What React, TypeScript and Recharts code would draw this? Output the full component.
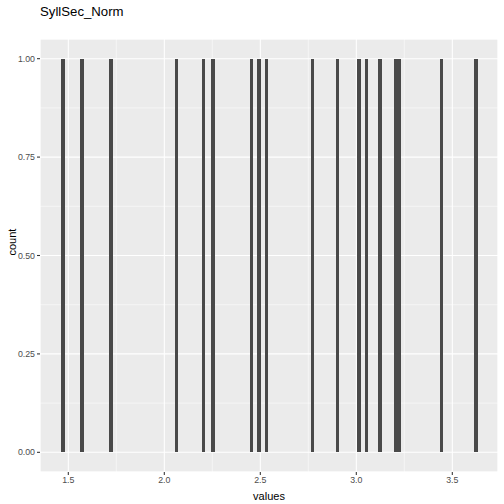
import React from 'react';
import { ComposedChart, Bar, XAxis, YAxis, CartesianGrid } from 'recharts';

// bin centres of the histogram (each bin holds one value)
const binCenters = [
  1.472, 1.571, 1.722, 2.064, 2.204, 2.254, 2.454, 2.493, 2.532, 2.772,
  2.902, 3.014, 3.053, 3.123, 3.205, 3.225, 3.444, 3.623,
];
const binCounts = [1, 1, 1, 1, 1, 1, 1, 1, 1, 1, 1, 1, 1, 1, 1, 1, 1, 1];

const xTicks = [1.5, 2.0, 2.5, 3.0, 3.5];
const xMinorTicks = [1.75, 2.25, 2.75, 3.25];
const yTicks = [0, 0.25, 0.5, 0.75, 1.0];
const yMinorTicks = [0.125, 0.375, 0.625, 0.875];

const X_DOMAIN: [number, number] = [1.3526, 3.738];
const Y_DOMAIN: [number, number] = [-0.05, 1.05];

const data = binCenters.map((v, i) => ({ value: v, count: binCounts[i] }));

const FONT = '"Liberation Sans", Arial, Helvetica, sans-serif';
const tickStyle = { fontSize: 8.8, fill: '#4D4D4D', fontFamily: FONT };

const App: React.FC = () => {
  return (
    <div style={{ position: 'absolute', left: 0, top: 0, width: 504, height: 504, background: '#fff', fontFamily: FONT }}>
      <div
        style={{
          position: 'absolute',
          left: 40,
          top: 5,
          fontSize: 13.2,
          lineHeight: '13.2px',
          color: '#000',
        }}
      >
        SyllSec_Norm
      </div>
      <ComposedChart
        width={504}
        height={504}
        data={data}
        margin={{ top: 39, right: 6, bottom: 0, left: 0 }}
      >
        {/* minor grid + panel background */}
        <CartesianGrid
          xAxisId="minor"
          yAxisId="minor"
          fill="#EBEBEB"
          stroke="#FFFFFF"
          strokeWidth={0.53}
        />
        {/* major grid */}
        <CartesianGrid stroke="#FFFFFF" strokeWidth={1.07} />
        <XAxis
          xAxisId="minor"
          type="number"
          dataKey="value"
          domain={X_DOMAIN}
          ticks={xMinorTicks}
          allowDataOverflow
          hide
        />
        <YAxis
          yAxisId="minor"
          type="number"
          domain={Y_DOMAIN}
          ticks={yMinorTicks}
          allowDataOverflow
          hide
        />
        <XAxis
          type="number"
          dataKey="value"
          domain={X_DOMAIN}
          ticks={xTicks}
          allowDataOverflow
          height={32}
          axisLine={false}
          tickLine={{ stroke: '#333333', strokeWidth: 1.07 }}
          tickSize={3}
          tickMargin={2}
          tick={tickStyle}
          tickFormatter={(v: number) => v.toFixed(1)}
          label={{ value: 'values', position: 'insideBottom', offset: 4, fontSize: 11, fill: '#000', fontFamily: FONT }}
        />
        <YAxis
          type="number"
          domain={Y_DOMAIN}
          ticks={yTicks}
          allowDataOverflow
          width={40}
          axisLine={false}
          tickLine={{ stroke: '#333333', strokeWidth: 1.07 }}
          tickSize={3}
          tickMargin={2}
          tick={tickStyle}
          tickFormatter={(v: number) => v.toFixed(2)}
          label={{ value: 'count', angle: -90, position: 'insideLeft', offset: 12, fontSize: 11, fill: '#000', fontFamily: FONT }}
        />
        <Bar
          dataKey="count"
          fill="#494949"
          barSize={3.8}
          shapeRendering="crispEdges"
          isAnimationActive={false}
        />
      </ComposedChart>
    </div>
  );
};

export default App;
